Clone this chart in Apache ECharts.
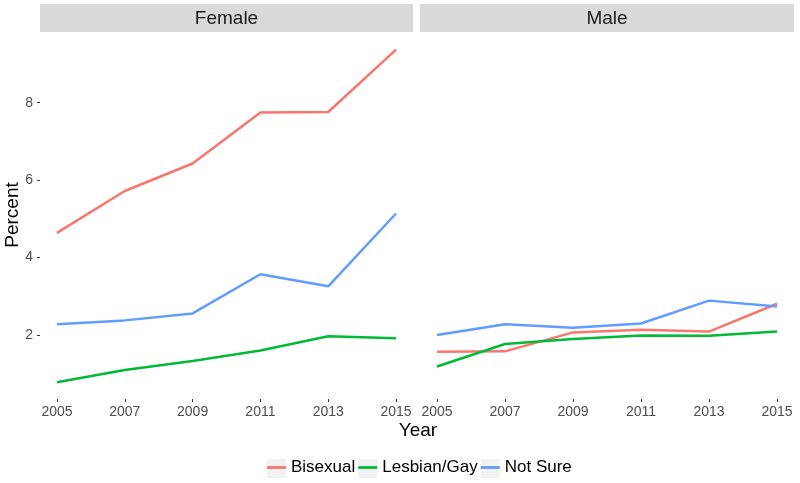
<!DOCTYPE html>
<html>
<head>
<meta charset="utf-8">
<script src="https://cdn.jsdelivr.net/npm/echarts@6/dist/echarts.min.js"></script>
<style>html,body{margin:0;padding:0;background:#fff}#c{width:800px;height:483px}</style>
</head>
<body>
<div id="c"></div>
<script>
const years = [2005, 2007, 2009, 2011, 2013, 2015];
const panels = ['Female', 'Male'];
const groups = ['Bisexual', 'Lesbian/Gay', 'Not Sure'];
const colors = ['#F8766D', '#00BA38', '#619CFF'];
const yTicks = [2, 4, 6, 8];

const femaleBisexual = [4.64, 5.72, 6.43, 7.75, 7.76, 9.37];
const femaleLesbianGay = [0.78, 1.10, 1.33, 1.60, 1.97, 1.92];
const femaleNotSure = [2.28, 2.38, 2.56, 3.57, 3.26, 5.14];
const maleBisexual = [1.57, 1.58, 2.07, 2.14, 2.09, 2.81];
const maleLesbianGay = [1.19, 1.77, 1.90, 1.99, 1.98, 2.09];
const maleNotSure = [2.00, 2.28, 2.19, 2.30, 2.89, 2.74];

const panelData = [
  [femaleBisexual, femaleLesbianGay, femaleNotSure],
  [maleBisexual, maleLesbianGay, maleNotSure]
];

const chart = echarts.init(document.getElementById('c'), null, {renderer: 'canvas'});

const grids = [
  {left: 40, top: 33, width: 373, height: 366},
  {left: 420, top: 33, width: 374, height: 366}
];

const xAxes = grids.map((g, i) => ({
  type: 'value', gridIndex: i, min: 2004.5, max: 2015.5,
  axisLine: {show: false},
  splitLine: {show: false},
  axisTick: {show: true, length: 3, lineStyle: {color: '#333333', width: 1}, customValues: years},
  axisLabel: {customValues: years, formatter: v => String(v), color: '#4d4d4d', fontSize: 14, margin: 6, fontFamily: 'Liberation Sans'}
}));

const yAxes = grids.map((g, i) => ({
  type: 'value', gridIndex: i, min: 0.35, max: 9.8,
  axisLine: {show: false},
  splitLine: {show: false},
  axisTick: {show: i === 0, length: 3, lineStyle: {color: '#333333', width: 1}, customValues: yTicks},
  axisLabel: {show: i === 0, customValues: yTicks, formatter: v => String(v), color: '#4d4d4d', fontSize: 14, margin: 7, fontFamily: 'Liberation Sans'}
}));

const series = [];
panelData.forEach((arrs, p) => {
  arrs.forEach((vals, k) => {
    series.push({
      name: groups[k], type: 'line', xAxisIndex: p, yAxisIndex: p,
      data: years.map((y, j) => [y, vals[j]]),
      showSymbol: false, symbol: 'none',
      color: colors[k],
      itemStyle: {color: colors[k]},
      lineStyle: {color: colors[k], width: 2.5},
      emphasis: {disabled: true},
      animation: false
    });
  });
});

const legendBase = {
  left: 267, top: 459, padding: 0, itemGap: 3, itemWidth: 19, itemHeight: 19,
  orient: 'horizontal', selectedMode: false, data: groups
};

const option = {
  backgroundColor: '#ffffff',
  animation: false,
  grid: grids,
  xAxis: xAxes,
  yAxis: yAxes,
  series: series,
  legend: [
    Object.assign({}, legendBase, {
      z: 1, icon: 'rect',
      itemStyle: {color: '#f2f2f2', borderWidth: 0},
      textStyle: {color: 'rgba(0,0,0,0)', fontSize: 17, fontFamily: 'Liberation Sans'}
    }),
    Object.assign({}, legendBase, {
      z: 5, icon: 'path://M0,0L17,0L17,2.5L0,2.5Z',
      itemStyle: {borderWidth: 0},
      textStyle: {color: '#000000', fontSize: 17, fontFamily: 'Liberation Sans'}
    })
  ],
  graphic: [
    {type: 'rect', shape: {x: 40, y: 4, width: 373, height: 28}, style: {fill: '#d9d9d9'}, silent: true},
    {type: 'rect', shape: {x: 420, y: 4, width: 374, height: 28}, style: {fill: '#d9d9d9'}, silent: true},
    {type: 'text', x: 226.5, y: 19, style: {text: panels[0], fill: '#1a1a1a', font: '19px "Liberation Sans"', align: 'center', verticalAlign: 'middle'}, silent: true},
    {type: 'text', x: 607, y: 19, style: {text: panels[1], fill: '#1a1a1a', font: '19px "Liberation Sans"', align: 'center', verticalAlign: 'middle'}, silent: true},
    {type: 'text', x: 418, y: 431, style: {text: 'Year', fill: '#000000', font: '19px "Liberation Sans"', align: 'center', verticalAlign: 'middle'}, silent: true},
    {type: 'text', x: 13, y: 215, rotation: Math.PI / 2, style: {text: 'Percent', fill: '#000000', font: '19px "Liberation Sans"', align: 'center', verticalAlign: 'middle'}, silent: true}
  ]
};
chart.setOption(option);
</script>
</body>
</html>
